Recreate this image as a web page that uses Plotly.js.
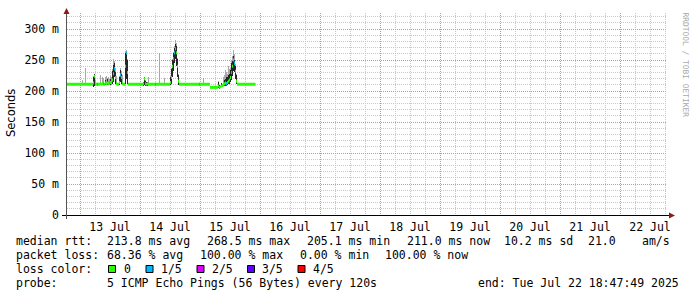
<!DOCTYPE html>
<html>
<head>
<meta charset="utf-8">
<script src="https://cdn.plot.ly/plotly-3.0.1.min.js"></script>
<style>html,body{margin:0;padding:0;background:#fff;}#chart{width:697px;height:297px;}</style>
</head>
<body>
<div id="chart"></div>
<script>
// ---- data (median RTT in ms, smoke range in ms, outlier top in ms, lost pings of 5) ----
const times = [
 "2025-07-12 18:48","2025-07-13 00:48","2025-07-13 01:12","2025-07-13 02:00","2025-07-13 02:24",
 "2025-07-13 05:12","2025-07-13 05:36","2025-07-13 06:00","2025-07-13 06:24","2025-07-13 06:48",
 "2025-07-13 07:12","2025-07-13 08:00","2025-07-13 08:24","2025-07-13 08:48","2025-07-13 09:12",
 "2025-07-13 09:36","2025-07-13 10:00","2025-07-13 10:24","2025-07-13 10:48","2025-07-13 11:12",
 "2025-07-13 11:36","2025-07-13 12:00","2025-07-13 12:24","2025-07-13 12:48","2025-07-13 13:12",
 "2025-07-13 13:36","2025-07-13 14:00","2025-07-13 14:24","2025-07-13 14:48","2025-07-13 15:36",
 "2025-07-13 16:00","2025-07-13 16:24","2025-07-13 16:48","2025-07-13 17:12","2025-07-13 18:00",
 "2025-07-13 18:24","2025-07-13 18:48","2025-07-13 19:12","2025-07-14 01:12","2025-07-14 01:36",
 "2025-07-14 02:00","2025-07-14 02:24","2025-07-14 02:48","2025-07-14 03:12","2025-07-14 03:36",
 "2025-07-14 06:00","2025-07-14 06:24","2025-07-14 07:36","2025-07-14 08:00","2025-07-14 09:36",
 "2025-07-14 10:00","2025-07-14 12:00","2025-07-14 12:24","2025-07-14 12:48","2025-07-14 13:12",
 "2025-07-14 13:36","2025-07-14 14:00","2025-07-14 14:24","2025-07-14 14:48","2025-07-14 15:12",
 "2025-07-14 15:36","2025-07-14 23:36","2025-07-15 00:00","2025-07-15 01:12","2025-07-15 01:36",
 "2025-07-15 04:00","2025-07-15 07:12","2025-07-15 07:36","2025-07-15 08:00","2025-07-15 08:24",
 "2025-07-15 08:48","2025-07-15 09:12","2025-07-15 09:36","2025-07-15 10:00","2025-07-15 10:24",
 "2025-07-15 10:48","2025-07-15 11:12","2025-07-15 11:36","2025-07-15 12:00","2025-07-15 12:24",
 "2025-07-15 12:48","2025-07-15 13:12","2025-07-15 13:36","2025-07-15 14:00","2025-07-15 14:24",
 "2025-07-15 14:48","2025-07-15 22:12"
];
const median = [
 211,211,211,211,211, 213,224,211,211,211, 211,212,211,212,212, 211,213,212,213,212,
 213,214,212,218,228, 236,222,212,211,214, 226,222,212,211,240, 262,230,211,212,220,
 212,211,212,211,211, 211,211,211,211,211, 211,214,222,240,252, 262,268.5,262,240,216,
 211,211,211,211,211, 206,208,206,207,208, 209,210,212,213,212, 214,216,218,222,230,
 240,250,245,232,216, 211,211
];
const smokeLo = [
 null,null,null,null,null, 206,209,null,null,null, null,null,null,null,null, null,210,null,210,null,
 null,210,null,211,214, 222,212,null,null,210, 214,212,null,null,212, 220,212,null,209,210,
 208,208,209,null,null, null,null,null,null,null, null,210,212,222,232, 245,252,240,222,210,
 null,null,null,null,null, null,205,204,null,206, 206,null,208,209,209, 210,211,212,214,218,
 224,232,230,220,211, null,null
];
const smokeHi = [
 null,null,null,null,null, 222,227,null,null,null, null,null,null,null,null, null,218,null,219,null,
 null,220,null,232,242, 246,230,null,null,222, 234,228,null,null,262, 265,250,null,215,222,
 216,214,215,null,null, null,null,null,null,null, null,222,236,250,261, 270,276,272,252,226,
 null,null,null,null,null, null,214,210,null,213, 212,null,218,220,222, 222,226,228,234,246,
 248,256,250,240,226, null,null
];
const outlierHi = [
 null,218,null,238,null, 224,228,218,null,null, null,226,null,222,221, null,222,224,221,223,
 220,224,223,236,252, 248,238,225,null,225, 237,232,226,null,264, 266,252,null,null,null,
 218,null,null,222,null, null,null,261,null,221, null,224,238,252,263, 272,283,278,254,228,
 null,null,null,221,null, null,216,null,null,null, null,223,226,234,230, 228,240,236,238,248,
 256,266,260,244,228, null,null
];
const lostPings = [
 0,0,0,0,0, 0,0,0,0,1, 0,0,0,0,1, 0,0,0,0,0,
 1,0,0,0,0, 1,0,0,0,0, 1,0,0,0,0, 1,0,0,0,0,
 0,0,0,0,0, 1,0,0,0,0, 0,0,0,0,1, 1,0,0,0,0,
 0,1,0,0,0, 0,0,0,0,0, 0,0,0,0,1, 0,0,0,0,1,
 0,0,1,0,0, 0,0
];
const dayStarts = ["2025-07-13","2025-07-14","2025-07-15","2025-07-16","2025-07-17",
                   "2025-07-18","2025-07-19","2025-07-20","2025-07-21","2025-07-22"];
const dayNoons = ["2025-07-13 12:00","2025-07-14 12:00","2025-07-15 12:00","2025-07-16 12:00","2025-07-17 12:00",
                  "2025-07-18 12:00","2025-07-19 12:00","2025-07-20 12:00","2025-07-21 12:00","2025-07-22 12:00"];
const dayLabels = ["13 Jul","14 Jul","15 Jul","16 Jul","17 Jul","18 Jul","19 Jul","20 Jul","21 Jul","22 Jul"];
const yTickVals = [0,0.05,0.10,0.15,0.20,0.25,0.30];
const yTickText = ["0","50 m","100 m","150 m","200 m","250 m","300 m"];
const lossLabels = ["0","1/5","2/5","3/5","4/5"];
const lossColors = ["#26ff00","#00b8ff","#dd00ff","#5e00ff","#ff0000"];
const statsRtt = ["median rtt:","213.8 ms avg","268.5 ms max","205.1 ms min","211.0 ms now","10.2 ms sd","21.0","am/s"];
const statsLoss = ["packet loss:","68.36 % avg","100.00 % max","0.00 % min","100.00 % now"];
const probeText = ["probe:","5 ICMP Echo Pings (56 Bytes) every 120s","end: Tue Jul 22 18:47:49 2025"];
const rangeStart = "2025-07-12 18:47:49", rangeEnd = "2025-07-22 18:47:49";

// ---- geometry helpers (pixel -> paper) ----
const L = 67, T = 13, W = 600, H = 202;
const px = x => (x - L) / W;
const py = y => (T + H - y) / H;
const nb = s => s.replace(/ /g, "\u00a0");
const MONO = "DejaVu Sans Mono";
const FS = 11.5;
const STEP = 24 * 60 * 1000;
const s = v => v == null ? null : v / 1000;

// smoke bars
const outBase = [], outLen = [], smBase = [], smLen = [];
for (let i = 0; i < times.length; i++) {
  if (outlierHi[i] != null) { const b = smokeLo[i] != null ? smokeLo[i] : median[i]; outBase.push(s(b)); outLen.push(s(outlierHi[i] - b)); }
  else { outBase.push(null); outLen.push(null); }
  if (smokeLo[i] != null) { smBase.push(s(smokeLo[i])); smLen.push(s(smokeHi[i] - smokeLo[i])); }
  else { smBase.push(null); smLen.push(null); }
}
// median drawn as separate horizontal steps (no vertical connectors), coloured by loss
const segX = [], segY = [], lossSegX = [], lossSegY = [];
for (let i = 0; i < times.length - 1; i++) {
  segX.push(times[i], times[i + 1], null); segY.push(s(median[i]), s(median[i]), null);
  if (lostPings[i] > 0) {
    const t1 = new Date(new Date(times[i].replace(" ", "T") + ":00Z").getTime() + STEP).toISOString().slice(0, 16).replace("T", " ");
    lossSegX.push(times[i], t1, null); lossSegY.push(s(median[i]), s(median[i]), null);
  }
}

const traces = [
  {type:"bar", x:times, y:outLen, base:outBase, width:STEP, offset:0, marker:{color:"#a8a8a8", line:{width:0}}, hoverinfo:"skip"},
  {type:"bar", x:times, y:smLen, base:smBase, width:STEP, offset:0, marker:{color:"#262626", line:{width:0}}, hoverinfo:"skip"},
  {type:"scatter", mode:"lines", x:segX, y:segY, connectgaps:false, line:{color:lossColors[0], width:3}, hoverinfo:"skip"},
  {type:"scatter", mode:"lines", x:lossSegX, y:lossSegY, connectgaps:false, line:{color:lossColors[1], width:3}, hoverinfo:"skip"},
  {type:"scatter", x:[], y:[], xaxis:"x2", yaxis:"y", hoverinfo:"skip"}
];

const annotations = [];
const addText = (text, x, y, extra) => annotations.push(Object.assign({
  text: nb(text), xref:"paper", yref:"paper", x: px(x), y: py(y), xanchor:"left", yanchor:"middle",
  showarrow:false, borderpad:0, font:{family:MONO, size:FS, color:"#000"}
}, extra || {}));
const rttX = [15, 106, 206, 306, 406, 503, 587, 641];
statsRtt.forEach((t, i) => addText(t, rttX[i], 241));
const lossX2 = [15, 106, 199, 299, 384];
statsLoss.forEach((t, i) => addText(t, lossX2[i], 255));
addText("loss color:", 15, 269);
const sqX = [108.5, 146, 197, 247.5, 298];
const lblX = [122.5, 159.5, 210.5, 261, 311.5];
lossLabels.forEach((t, i) => addText(t, lblX[i], 269));
const probeX = [15, 106, 477];
probeText.forEach((t, i) => addText(t, probeX[i], 283));
annotations.push({text: nb("RRDTOOL / TOBI OETIKER"), xref:"paper", yref:"paper", x:px(685.5), y:py(65),
  xanchor:"center", yanchor:"middle", textangle:90, showarrow:false, borderpad:0,
  font:{family:MONO, size:7.9, color:"#a8a8a8"}});
annotations.push({text: "Seconds", xref:"paper", yref:"paper", x:px(10.5), y:py(113.5),
  xanchor:"center", yanchor:"middle", textangle:-90, showarrow:false, borderpad:0,
  font:{family:"DejaVu Sans", size:11.5, color:"#000"}});

const shapes = [];
sqX.forEach((x, i) => shapes.push({type:"rect", xref:"paper", yref:"paper", x0:px(x), x1:px(x+7), y0:py(272.5), y1:py(265.5),
  fillcolor:lossColors[i], line:{color:"#000", width:1}}));
shapes.push({type:"line", xref:"paper", yref:"paper", x0:px(62), x1:px(671), y0:py(215.5), y1:py(215.5), line:{color:"#000", width:1}});
shapes.push({type:"line", xref:"paper", yref:"paper", x0:px(66.5), x1:px(66.5), y0:py(219), y1:py(12), line:{color:"#555", width:1}});
shapes.push({type:"path", xref:"paper", yref:"paper", path:`M ${px(669)} ${py(212.5)} L ${px(675)} ${py(215.5)} L ${px(669)} ${py(218.5)} Z`, fillcolor:"#8b1a1a", line:{width:0}});
shapes.push({type:"path", xref:"paper", yref:"paper", path:`M ${px(63.5)} ${py(14)} L ${px(66.5)} ${py(8)} L ${px(69.5)} ${py(14)} Z`, fillcolor:"#8b1a1a", line:{width:0}});

const layout = {
  width:697, height:297, margin:{l:L, r:697-L-W, t:T, b:297-T-H},
  paper_bgcolor:"#fff", plot_bgcolor:"#fff", showlegend:false, barmode:"overlay", bargap:0,
  xaxis:{type:"date", range:[rangeStart, rangeEnd], tickmode:"array", tickvals:dayNoons, ticktext:dayLabels,
    showgrid:false, zeroline:false, showline:false, ticks:"", ticklabelstandoff:3,
    tickfont:{family:MONO, size:FS, color:"#000"}, fixedrange:true},
  xaxis2:{type:"date", overlaying:"x", matches:"x", range:[rangeStart, rangeEnd], tickmode:"array", tickvals:dayStarts,
    showticklabels:false, ticks:"", showgrid:true, gridcolor:"#e28c8c", griddash:"1px,1px", gridwidth:1, zeroline:false,
    minor:{dtick:6*3600*1000, tick0:"2025-07-13", showgrid:true, gridcolor:"#c8c8c8", griddash:"1px,1px", gridwidth:1}},
  yaxis:{range:[0, 0.326], tickmode:"array", tickvals:yTickVals, ticktext:yTickText, showgrid:true, gridcolor:"#e28c8c",
    griddash:"1px,1px", zeroline:false, showline:false, ticks:"", ticklabelstandoff:7,
    tickfont:{family:MONO, size:FS, color:"#000"},
    minor:{dtick:0.01, tick0:0, showgrid:true, gridcolor:"#c8c8c8", griddash:"1px,1px"}},
  annotations, shapes
};
Plotly.newPlot("chart", traces, layout, {staticPlot:true, displayModeBar:false});
</script>
</body>
</html>
